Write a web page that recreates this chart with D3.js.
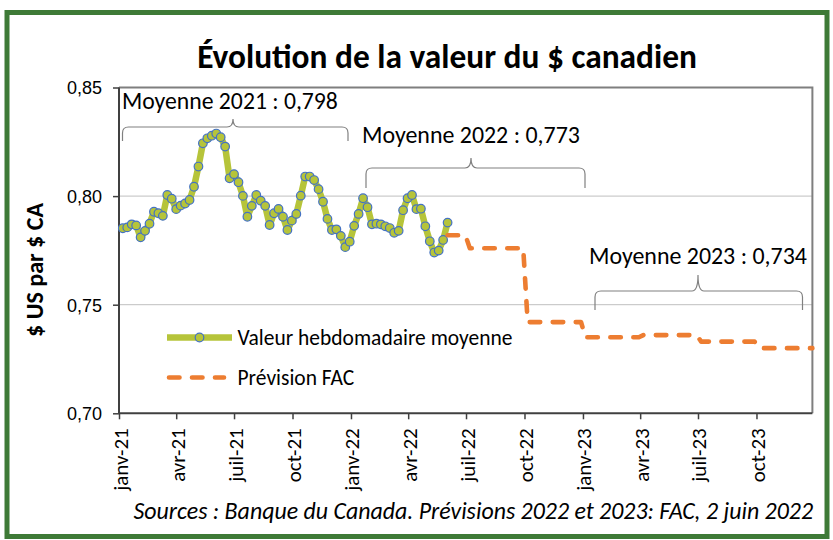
<!DOCTYPE html>
<html>
<head>
<meta charset="utf-8">
<script src="https://cdn.jsdelivr.net/npm/d3@7"></script>
<style>
  body { margin: 0; background: #fff; }
  svg { display: block; }
</style>
</head>
<body>
<svg id="chart" width="833" height="540"></svg>
<script>
// ---- data -------------------------------------------------------------
// weekly average USD per CAD, one value per week starting 2021-01-07
const firstWeek = "2021-01-07";
const weeklyValues = [
  0.7852, 0.7856, 0.7870, 0.7865, 0.7810, 0.7840, 0.7873, 0.7928, 0.7921, 0.7909,
  0.8005, 0.7988, 0.7940, 0.7956, 0.7966, 0.7982, 0.8043, 0.8136, 0.8243, 0.8266,
  0.8278, 0.8288, 0.8271, 0.8228, 0.8082, 0.8101, 0.8064, 0.8001, 0.7905, 0.7955,
  0.8005, 0.7979, 0.7955, 0.7867, 0.7921, 0.7941, 0.7905, 0.7844, 0.7887, 0.7918,
  0.8002, 0.8090, 0.8090, 0.8074, 0.8032, 0.7974, 0.7895, 0.7844, 0.7847, 0.7817,
  0.7765, 0.7790, 0.7863, 0.7918, 0.7990, 0.7949, 0.7870, 0.7873, 0.7870, 0.7861,
  0.7853, 0.7831, 0.7840, 0.7935, 0.7990, 0.8005, 0.7940, 0.7942, 0.7861, 0.7792,
  0.7740, 0.7749, 0.7798, 0.7878
];

// FAC quarterly forecast (quarter start, value), drawn weekly as a step
const forecastQuarters = ["2022-04-01", "2022-07-01", "2022-10-01", "2023-01-01", "2023-04-01", "2023-07-01", "2023-10-01"];
const forecastValues   = [0.782, 0.776, 0.742, 0.735, 0.736, 0.733, 0.730];
const forecastFirstWeek = 73;   // week index where the forecast line begins
const forecastLastWeek  = 155;  // last week of 2023

const xTickDates  = ["2021-01-01", "2021-04-01", "2021-07-01", "2021-10-01", "2022-01-01", "2022-04-01",
                     "2022-07-01", "2022-10-01", "2023-01-01", "2023-04-01", "2023-07-01", "2023-10-01"];
const xTickLabels = ["janv-21", "avr-21", "juil-21", "oct-21", "janv-22", "avr-22",
                     "juil-22", "oct-22", "janv-23", "avr-23", "juil-23", "oct-23"];
const yTicks      = [0.70, 0.75, 0.80, 0.85];
const yTickLabels = ["0,70", "0,75", "0,80", "0,85"];

const avgLabels = ["Moyenne 2021 : 0,798", "Moyenne 2022 : 0,773", "Moyenne 2023 : 0,734"];

const seriesNames = ["Valeur hebdomadaire moyenne", "Prévision FAC"];
const titleText  = "Évolution de la valeur du $ canadien";
const yTitleText = "$ US par $ CA";
const sourceText = "Sources : Banque du Canada. Prévisions 2022 et 2023: FAC, 2 juin 2022";

// ---- setup ------------------------------------------------------------
const parse = d3.utcParse("%Y-%m-%d");
const weekDate = i => d3.utcDay.offset(parse(firstWeek), 7 * i);

const svg = d3.select("#chart");
const W = 833, H = 540;
const plot = { left: 119, right: 812.4, top: 87.5, bottom: 413.3 };

const x = d3.scaleUtc()
  .domain([parse("2021-01-01"), weekDate(forecastLastWeek)])
  .range([plot.left, plot.right]);
const y = d3.scaleLinear().domain([0.70, 0.85]).range([plot.bottom, plot.top]);

const SANS = "Carlito, Calibri, Lato, 'Open Sans', sans-serif";
const GREEN = "#b6c43a", BLUE = "#4472c4", ORANGE = "#ed7d31";

// scale a text element's font size so its rendered width equals w
function fitWidth(sel, w) {
  const node = sel.node();
  const fs = parseFloat(sel.attr("font-size"));
  const len = node.getComputedTextLength();
  if (len > 0) sel.attr("font-size", (fs * w / len).toFixed(2));
  return sel;
}

// outer frame
svg.append("rect").attr("x", 0).attr("y", 0).attr("width", W).attr("height", H).attr("fill", "#fff");
svg.append("rect")
  .attr("x", 7).attr("y", 12.5).attr("width", 820).attr("height", 524)
  .attr("fill", "none").attr("stroke", "#3e7a37").attr("stroke-width", 5);

// title
fitWidth(svg.append("text")
  .attr("x", 447).attr("y", 68).attr("text-anchor", "middle")
  .attr("font-family", SANS).attr("font-weight", "bold").attr("font-size", 30)
  .attr("fill", "#000").text(titleText), 500);

// gridlines
svg.append("g").selectAll("line").data([0.75, 0.80]).join("line")
  .attr("x1", plot.left).attr("x2", plot.right)
  .attr("y1", d => y(d)).attr("y2", d => y(d))
  .attr("stroke", "#bfbfbf").attr("stroke-width", 1);

// plot frame: top and right in grey
svg.append("path")
  .attr("d", `M${plot.left},${plot.top}H${plot.right}V${plot.bottom}`)
  .attr("fill", "none").attr("stroke", "#7f7f7f").attr("stroke-width", 2);

// y axis
const yAxis = svg.append("g").attr("transform", `translate(${plot.left},0)`)
  .call(d3.axisLeft(y).tickValues(yTicks).tickSize(6).tickPadding(11)
    .tickFormat((d, i) => yTickLabels[i]));
yAxis.select(".domain").attr("stroke", "#404040").attr("stroke-width", 2)
  .attr("d", `M0,${plot.top}V${plot.bottom}`);
yAxis.selectAll(".tick line").attr("stroke", "#404040").attr("stroke-width", 1.5);
yAxis.selectAll(".tick text")
  .attr("font-family", "'Liberation Sans', Arial, sans-serif").attr("font-size", 18)
  .attr("fill", "#000").attr("dy", "0.36em");

// x axis
const xAxis = svg.append("g").attr("transform", `translate(0,${plot.bottom})`)
  .call(d3.axisBottom(x).tickValues(xTickDates.map(parse)).tickSize(6)
    .tickFormat((d, i) => xTickLabels[i]));
xAxis.select(".domain").attr("stroke", "#404040").attr("stroke-width", 2)
  .attr("d", `M${plot.left},0H${plot.right}`);
xAxis.selectAll(".tick line").attr("stroke", "#404040").attr("stroke-width", 1.5);
const xt = xAxis.selectAll(".tick text")
  .attr("font-family", SANS).attr("font-size", 20).attr("fill", "#000")
  .attr("text-anchor", "end").attr("dy", null).attr("y", 0)
  .attr("transform", "translate(8,15) rotate(-90)");
// size the rotated labels from the "oct-23" label
{
  const ref = xt.filter((d, i) => i === xTickLabels.length - 1);
  fitWidth(ref, 54);
  xt.attr("font-size", ref.attr("font-size"));
}

// y axis title
fitWidth(svg.append("text")
  .attr("transform", "translate(43,270) rotate(-90)").attr("text-anchor", "middle")
  .attr("font-family", SANS).attr("font-weight", "bold").attr("font-size", 22)
  .attr("fill", "#000").text(yTitleText), 134);

// ---- series -----------------------------------------------------------
const weekly = weeklyValues.map((v, i) => ({ date: weekDate(i), value: v }));

const quarterStarts = forecastQuarters.map(parse);
const forecast = d3.range(forecastFirstWeek, forecastLastWeek + 1).map(i => {
  const date = weekDate(i);
  const q = d3.bisectRight(quarterStarts, date) - 1;
  return { date, value: forecastValues[Math.max(0, q)] };
});

const line = d3.line().x(d => x(d.date)).y(d => y(d.value));

svg.append("path").datum(weekly)
  .attr("d", line).attr("fill", "none")
  .attr("stroke", GREEN).attr("stroke-width", 6.5).attr("stroke-linejoin", "round");

svg.append("g").selectAll("circle").data(weekly).join("circle")
  .attr("cx", d => x(d.date)).attr("cy", d => y(d.value)).attr("r", 4.3)
  .attr("fill", GREEN).attr("stroke", BLUE).attr("stroke-width", 1.2);

svg.append("path").datum(forecast)
  .attr("d", line).attr("fill", "none")
  .attr("stroke", ORANGE).attr("stroke-width", 4.6)
  .attr("stroke-linecap", "round").attr("stroke-linejoin", "round")
  .attr("stroke-dasharray", "10.5,12.5");

// ---- yearly average annotations ---------------------------------------
function brace(x0, x1, xc, yh, yEnd, yTip, r) {
  return `M${x0},${yEnd}V${yh + r}Q${x0},${yh} ${x0 + r},${yh}` +
         `H${xc - r}Q${xc},${yh} ${xc},${yTip}` +
         `Q${xc},${yh} ${xc + r},${yh}` +
         `H${x1 - r}Q${x1},${yh} ${x1},${yh + r}V${yEnd}`;
}
const braces = [
  { x0: 122.5, x1: 348, xc: 233, yh: 127, yEnd: 141, yTip: 119, tx: 122, ty: 109, tw: 216 },
  { x0: 366,   x1: 585, xc: 471, yh: 168, yEnd: 188, yTip: 158, tx: 362, ty: 143, tw: 218 },
  { x0: 595,   x1: 802.5, xc: 698, yh: 291, yEnd: 310, yTip: 275, tx: 589, ty: 263.5, tw: 218 }
];
braces.forEach((b, i) => {
  svg.append("path").attr("d", brace(b.x0, b.x1, b.xc, b.yh, b.yEnd, b.yTip, 6))
    .attr("fill", "none").attr("stroke", "#808080").attr("stroke-width", 1.2);
  fitWidth(svg.append("text").attr("x", b.tx).attr("y", b.ty)
    .attr("font-family", SANS).attr("font-size", 21).attr("fill", "#000")
    .text(avgLabels[i]), b.tw);
});

// ---- legend -----------------------------------------------------------
const lg = svg.append("g");
lg.append("line").attr("x1", 167).attr("x2", 232).attr("y1", 337.5).attr("y2", 337.5)
  .attr("stroke", GREEN).attr("stroke-width", 6.5);
lg.append("circle").attr("cx", 199.5).attr("cy", 337.5).attr("r", 4.3)
  .attr("fill", GREEN).attr("stroke", BLUE).attr("stroke-width", 1.2);
lg.append("line").attr("x1", 169).attr("x2", 224).attr("y1", 377.5).attr("y2", 377.5)
  .attr("stroke", ORANGE).attr("stroke-width", 4.6).attr("stroke-linecap", "round")
  .attr("stroke-dasharray", "10.5,12.5");
fitWidth(lg.append("text").attr("x", 237.5).attr("y", 345)
  .attr("font-family", SANS).attr("font-size", 20).attr("fill", "#000")
  .text(seriesNames[0]), 275);
lg.append("text").attr("x", 237.5).attr("y", 384.5)
  .attr("font-family", SANS).attr("font-size", lg.select("text").attr("font-size"))
  .attr("fill", "#000").text(seriesNames[1]);

// ---- source note --------------------------------------------------------
fitWidth(svg.append("text").attr("x", 813).attr("y", 519).attr("text-anchor", "end")
  .attr("font-family", SANS).attr("font-style", "italic").attr("font-size", 21)
  .attr("fill", "#000").text(sourceText), 680);
</script>
</body>
</html>
